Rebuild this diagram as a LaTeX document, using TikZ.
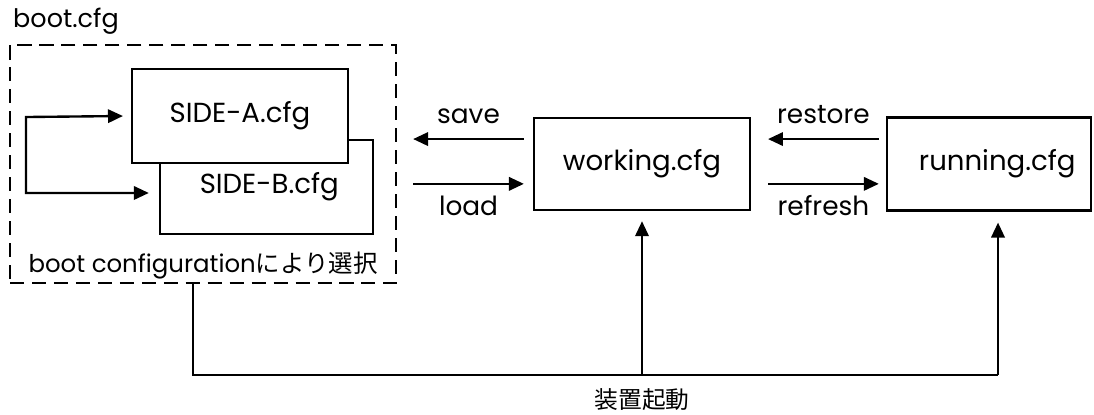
\documentclass[tikz,border=0pt]{standalone}
\usepackage{fontspec}
\setmainfont{Poppins}
\newfontfamily\jpfont{Noto Sans CJK JP}
\usetikzlibrary{arrows.meta, calc}
\tikzset{cfgbox/.style={draw, line width=1.35pt, fill=white, inner sep=0pt,
                        font=\fontsize{15.7}{18}\selectfont},
         arr/.style={-{Triangle[length=8.5pt, width=7.6pt]}, line width=1.35pt},
         lbl/.style={font=\fontsize{15}{17}\selectfont, inner sep=0pt}}

\begin{document}
\begin{tikzpicture}[x=0.02cm, y=-0.02cm]
      \useasboundingbox (0,0) rectangle (1094,414);
      \node[draw, dashed, dash pattern=on 8pt off 4.5pt, line width=1.35pt,
            minimum width=7.72cm, minimum height=4.76cm] (boot) at (203,164) {};
      \node[lbl, font=\fontsize{14.5}{17}\selectfont] (bootlbl) at (66,21) {boot.cfg};
      \node[lbl, font=\fontsize{13.9}{16}\selectfont] (select) at (203,266)
            {boot configuration{\jpfont により選択}};
      \node[cfgbox, minimum width=4.26cm, minimum height=1.88cm] (sideB) at (266.5,187)
            {\raisebox{-0.25em}{\hspace{0.2em}SIDE-B.cfg}};
      \node[cfgbox, minimum width=4.32cm, minimum height=1.88cm] (sideA) at (240,116) {SIDE-A.cfg};
      \node[cfgbox, minimum width=4.32cm, minimum height=1.84cm] (working) at (642,164) {working.cfg};
      \node[cfgbox, minimum width=4.08cm, minimum height=1.86cm] (running) at (989,164)
            {\hspace{0.6em}running.cfg};
      \node[lbl, font=\jpfont\fontsize{13.5}{16}\selectfont] (start) at (642,400) {装置起動};

      \coordinate (loop) at (26,117);
      \coordinate (busL) at (193,375);
      \coordinate (busR) at (998,375);

      \draw[arr] ([xshift=-5.1pt, yshift=14.2pt]working.west)
        -- node[lbl, above=8pt] (save) {save} ([xshift=9.1pt, yshift=14.2pt]boot.east);
      \draw[arr] ([xshift=9.1pt, yshift=-11.3pt]boot.east)
        -- node[lbl, below=6pt] (load) {load} ([xshift=-5.1pt, yshift=-11.3pt]working.west);
      \draw[arr] ([xshift=-4pt, yshift=14.2pt]running.west)
        -- node[lbl, above=8pt] (restore) {restore} ([xshift=9.6pt, yshift=14.2pt]working.east);
      \draw[arr] ([xshift=9.6pt, yshift=-11.3pt]working.east)
        -- node[lbl, below=6pt] (refresh) {refresh} ([xshift=-4pt, yshift=-11.3pt]running.west);

      \draw[arr, {Triangle[length=8.5pt, width=7.6pt]}-{Triangle[length=8.5pt, width=7.6pt]}]
        ([xshift=-4.5pt]sideA.west) -- (loop) |- ([xshift=-5.7pt, yshift=-3.4pt]sideB.west);

      \draw[line width=1.35pt] (boot.south -| busL) -- (busL) -- (busR);
      \draw[arr, shorten >=5.7pt] (working.south |- busL) -- (working.south);
      \draw[arr, shorten >=6.2pt] (busR) -- (busR |- running.south);
    \end{tikzpicture}
\end{document}
